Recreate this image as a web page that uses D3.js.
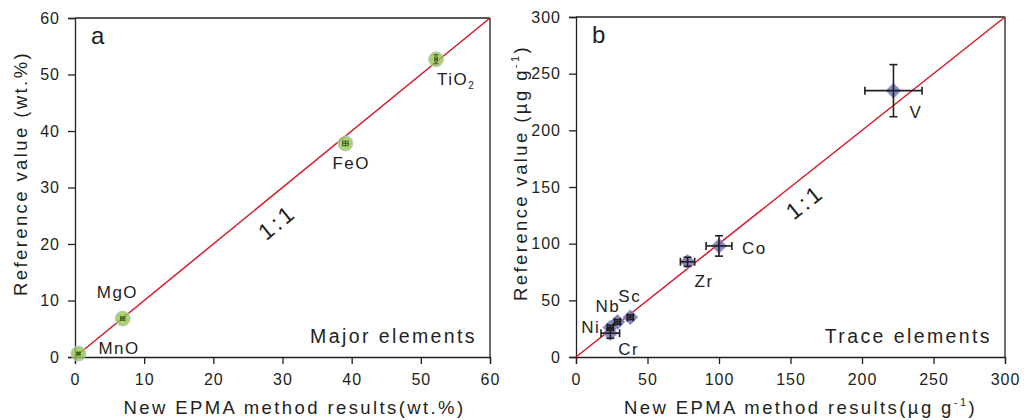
<!DOCTYPE html>
<html>
<head>
<meta charset="utf-8">
<script src="https://cdn.jsdelivr.net/npm/d3@7"></script>
<style>
  body { margin: 0; background: #fff; }
  svg text { font-family: "Liberation Sans", Arial, sans-serif; fill: #231f20; }
</style>
</head>
<body>
<svg id="chart" width="1033" height="420"></svg>
<script>
// painel a: elementos maiores (wt.%)
const majorNames = ["MnO", "MgO", "FeO", "TiO2"];
const majorEpma = [0.5, 6.9, 39.1, 52.2];
const majorRef = [0.6, 6.8, 37.8, 52.7];
const majorErrX = [0.2, 0.3, 0.4, 0.2];
const majorErrY = [0.2, 0.3, 0.4, 0.8];
const majorTicks = [0, 10, 20, 30, 40, 50, 60];

// painel b: elementos traço (µg/g)
const traceNames = ["Cr", "Ni", "Nb", "Sc", "Zr", "Co", "V"];
const traceEpma = [24, 24, 29, 38, 78, 100, 222];
const traceRef = [21, 26, 31, 35, 84, 98, 235];
const traceErrX = [6.5, 2, 2, 2, 5, 9, 20];
const traceErrY = [4.5, 2, 2, 2, 4, 9, 23];
const traceTicks = [0, 50, 100, 150, 200, 250, 300];

const svg = d3.select('#chart');

// deslocamento dos rótulos em pixels relativo ao ponto
const labelOffset = {
  MnO: [20, 0], MgO: [-26, -21], FeO: [-13, 26], TiO2: [1, 26],
  Cr: [8, 22], Ni: [-29, 5], Nb: [-22, -10], Sc: [-12, -15],
  Zr: [7, 25], Co: [23, 8], V: [16, 27]
};

function drawPanel(cfg) {
  const x = d3.scaleLinear().domain([0, cfg.max]).range([cfg.x0, cfg.x1]);
  const y = d3.scaleLinear().domain([0, cfg.max]).range([cfg.y0, cfg.y1]);
  const g = svg.append('g');

  // eixos
  const xAxis = g.append('g').attr('transform', `translate(0,${cfg.y0})`)
    .call(d3.axisBottom(x).tickValues(cfg.ticks).tickSize(7).tickPadding(10));
  const yAxis = g.append('g').attr('transform', `translate(${cfg.x0},0)`)
    .call(d3.axisLeft(y).tickValues(cfg.ticks).tickSize(7).tickPadding(8));
  g.append('line').attr('x1', cfg.x0).attr('x2', cfg.x1).attr('y1', cfg.y1).attr('y2', cfg.y1);
  g.append('line').attr('x1', cfg.x1).attr('x2', cfg.x1).attr('y1', cfg.y0).attr('y2', cfg.y1);
  g.selectAll('line').attr('stroke', '#231f20').attr('stroke-width', 1.3);
  [xAxis, yAxis].forEach(a => {
    a.select('.domain').attr('stroke', '#231f20').attr('stroke-width', 1.3);
    a.selectAll('.tick line').attr('stroke', '#231f20').attr('stroke-width', 1.3);
    a.selectAll('.tick text').attr('fill', '#231f20')
      .style('font-size', '16px').style('letter-spacing', '1px');
  });

  // linha 1:1
  g.append('line')
    .attr('x1', x(0)).attr('y1', y(0)).attr('x2', x(cfg.max)).attr('y2', y(cfg.max))
    .attr('stroke', '#d7192a').attr('stroke-width', 1.5);

  const ang = -Math.atan((cfg.y0 - cfg.y1) / (cfg.x1 - cfg.x0)) * 180 / Math.PI;
  g.append('text')
    .attr('transform', `translate(${x(cfg.oneX)},${y(cfg.oneY)}) rotate(${ang})`)
    .attr('text-anchor', 'middle').attr('dy', '0.35em')
    .style('font-size', '23px').style('letter-spacing', '3px')
    .text('1:1');

  const pts = cfg.names.map((n, i) => ({
    name: n, vx: cfg.vx[i], vy: cfg.vy[i], ex: cfg.ex[i], ey: cfg.ey[i]
  }));

  // marcadores
  pts.forEach(p => {
    const cx = x(p.vx), cy = y(p.vy);
    if (cfg.shape === 'circle') {
      g.append('circle').attr('cx', cx).attr('cy', cy).attr('r', 7.5)
        .attr('fill', 'rgba(150,196,80,0.8)').attr('stroke', 'rgba(185,205,225,0.9)').attr('stroke-width', 1);
    } else {
      const r = 7.5;
      g.append('path')
        .attr('d', `M${cx},${cy - r}L${cx + r},${cy}L${cx},${cy + r}L${cx - r},${cy}Z`)
        .attr('fill', 'rgba(100,106,176,0.8)').attr('stroke', 'rgba(160,165,215,0.9)').attr('stroke-width', 1);
    }
  });

  // barras de erro
  const ebColor = cfg.shape === 'circle' ? '#3f5a1e' : '#231f20';
  const cap = cfg.shape === 'circle' ? 2.5 : 4;
  pts.forEach(p => {
    const cx = x(p.vx), cy = y(p.vy);
    const xl = x(p.vx - p.ex), xr = x(p.vx + p.ex);
    const yt = y(p.vy + p.ey), yb = y(p.vy - p.ey);
    const eb = g.append('g').attr('stroke', ebColor).attr('stroke-width', cfg.shape === 'circle' ? 1 : 1.6);
    eb.append('line').attr('x1', xl).attr('x2', xr).attr('y1', cy).attr('y2', cy);
    eb.append('line').attr('x1', xl).attr('x2', xl).attr('y1', cy - cap).attr('y2', cy + cap);
    eb.append('line').attr('x1', xr).attr('x2', xr).attr('y1', cy - cap).attr('y2', cy + cap);
    eb.append('line').attr('x1', cx).attr('x2', cx).attr('y1', yt).attr('y2', yb);
    eb.append('line').attr('x1', cx - cap).attr('x2', cx + cap).attr('y1', yt).attr('y2', yt);
    eb.append('line').attr('x1', cx - cap).attr('x2', cx + cap).attr('y1', yb).attr('y2', yb);
  });

  // rótulos dos pontos
  pts.forEach(p => {
    const off = labelOffset[p.name];
    const t = g.append('text')
      .attr('x', x(p.vx) + off[0]).attr('y', y(p.vy) + off[1])
      .style('font-size', '17px').style('letter-spacing', '1.5px');
    if (p.name === 'TiO2') {
      t.append('tspan').text('TiO');
      t.append('tspan').attr('dy', 4).style('font-size', '10px').text('2');
    } else {
      t.text(p.name);
    }
  });

  // letra do painel e título interno
  g.append('text').attr('x', cfg.x0 + 16).attr('y', cfg.y1 + 26)
    .style('font-size', '24px').text(cfg.letter);
  g.append('text').attr('x', cfg.x1 - 13).attr('y', cfg.y0 - 14)
    .attr('text-anchor', 'end').style('font-size', '19.5px').style('letter-spacing', '2.4px')
    .text(cfg.title);

  // títulos dos eixos
  const xt = g.append('text').attr('x', (cfg.x0 + cfg.x1) / 2 + cfg.xtShift).attr('y', 414)
    .attr('text-anchor', 'middle').style('font-size', '18.5px').style('letter-spacing', '2.4px');
  const yt = g.append('text')
    .attr('transform', `translate(${cfg.ytX},${(cfg.y0 + cfg.y1) / 2 - 14}) rotate(-90)`)
    .attr('text-anchor', 'middle').style('font-size', '18.5px').style('letter-spacing', '2.4px');
  cfg.unitText(xt, 'New EPMA method results(');
  cfg.unitText(yt, 'Reference value (');
}

function wtUnit(t, prefix) {
  t.text(prefix + 'wt.%)');
}
function ugUnit(t, prefix) {
  t.append('tspan').text(prefix + 'µg g');
  t.append('tspan').attr('dy', -8).style('font-size', '11px').text('-1');
  t.append('tspan').attr('dy', 8).text(')');
}

drawPanel({
  max: 60, x0: 75, x1: 490, y0: 357, y1: 18, ticks: majorTicks,
  names: majorNames, vx: majorEpma, vy: majorRef, ex: majorErrX, ey: majorErrY,
  shape: 'circle', letter: 'a', title: 'Major elements',
  oneX: 29.2, oneY: 23.9, ytX: 27, xtShift: 12, unitText: wtUnit
});

drawPanel({
  max: 300, x0: 576, x1: 1005, y0: 357, y1: 17, ticks: traceTicks,
  names: traceNames, vx: traceEpma, vy: traceRef, ex: traceErrX, ey: traceErrY,
  shape: 'diamond', letter: 'b', title: 'Trace elements',
  oneX: 160, oneY: 137, ytX: 527, xtShift: 10, unitText: ugUnit
});
</script>
</body>
</html>
